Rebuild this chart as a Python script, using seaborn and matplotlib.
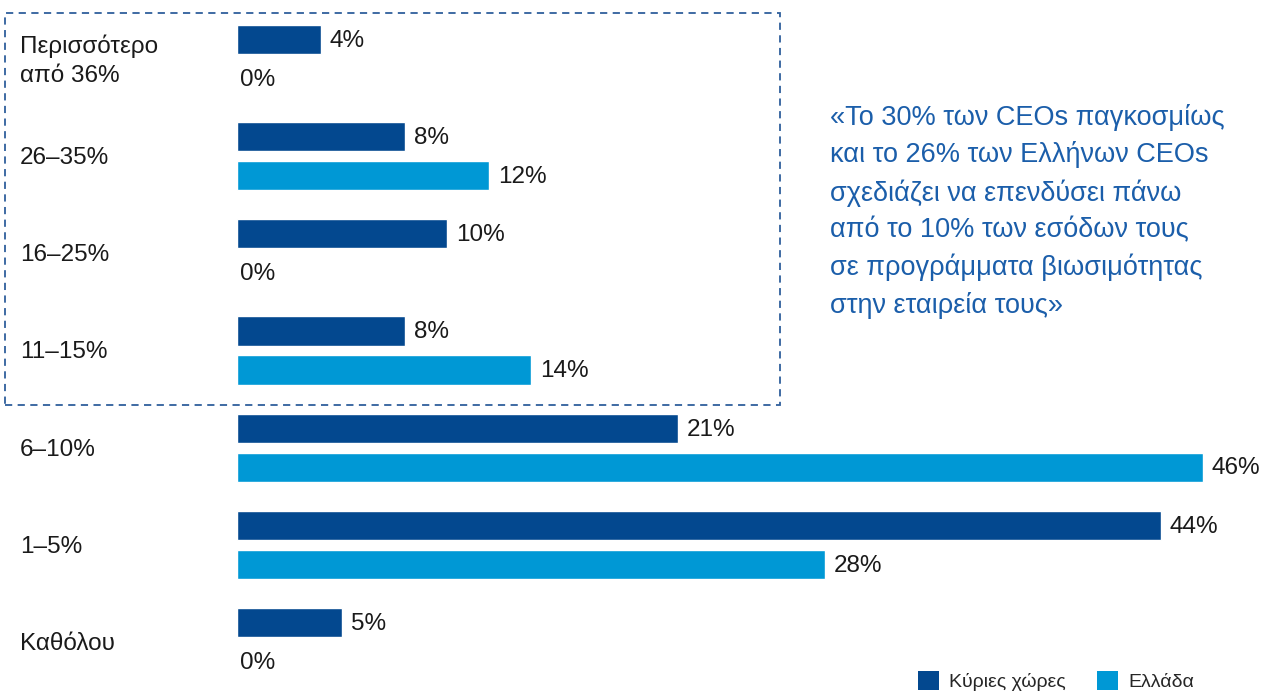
import matplotlib
matplotlib.use("Agg")
import matplotlib.pyplot as plt
from matplotlib.patches import Patch, Rectangle
import pandas as pd
import seaborn as sns

# Data
categories = ["Περισσότερο\nαπό 36%", "26–35%", "16–25%", "11–15%", "6–10%", "1–5%", "Καθόλου"]
main_countries = [4, 8, 10, 8, 21, 44, 5]
greece = [0, 12, 0, 14, 46, 28, 0]
series_names = ["Κύριες χώρες", "Ελλάδα"]
colors = ["#03488F", "#0098D5"]
quote = ("«Το 30% των CEOs παγκοσμίως\nκαι το 26% των Ελλήνων CEOs\n"
         "σχεδιάζει να επενδύσει πάνω\nαπό το 10% των εσόδων τους\n"
         "σε προγράμματα βιωσιμότητας\nστην εταιρεία τους»")

df = pd.DataFrame({
    "category": categories * 2,
    "value": main_countries + greece,
    "series": [series_names[0]] * len(categories) + [series_names[1]] * len(categories),
})

sns.set_style("white")
plt.rcParams["font.family"] = ["Liberation Sans", "DejaVu Sans"]

W, H = 1268, 694
fig = plt.figure(figsize=(W / 100, H / 100), dpi=100)
ax = fig.add_axes([237 / W, 3.4 / H, 1 - 237 / W, 680.2 / H])

sns.barplot(data=df, y="category", x="value", hue="series", orient="h",
            palette=colors, width=0.8, gap=0.25, legend=False, ax=ax,
            order=categories, hue_order=series_names, saturation=1)

ax.set_xlim(0, (W - 237) / 21.0)
ax.set_ylim(len(categories) - 0.5, -0.5)
sns.despine(ax=ax, left=True, bottom=True)
ax.set_xticks([])
ax.set_yticks([])
ax.set_xlabel("")
ax.set_ylabel("")

# value labels
for cont in ax.containers:
    for bar in cont.patches:
        w = bar.get_width()
        pad = 9 if w > 0 else 3
        ax.annotate(f"{w:.0f}%", (w, bar.get_y() + bar.get_height() / 2),
                    xytext=(pad * 0.72, -1), textcoords="offset points",
                    ha="left", va="center", fontsize=17.5, color="#1a1a1a")

# category labels on the left
for i, cat in enumerate(categories):
    ax.text((20 - 237) / (W - 237), i + 0.02, cat, transform=ax.get_yaxis_transform(),
            ha="left", va="center", fontsize=17.5, color="#1a1a1a", linespacing=1.4)

# dashed box around the upper groups
box = Rectangle((5 / W, 1 - 405 / H), 775 / W, 392 / H, transform=fig.transFigure,
                fill=False, edgecolor="#2F5F9C", linestyle=(0, (4, 3)), linewidth=1.3)
fig.add_artist(box)

# quote
fig.text(830 / W, 1 - 104 / H, quote, ha="left", va="top", fontsize=19.5,
         color="#1B5EAA", linespacing=1.5)

# legend
handles = [Patch(facecolor=c, edgecolor="none") for c in colors]
fig.legend(handles, series_names, loc="lower right", bbox_to_anchor=(1194 / W, 3 / H),
           ncol=2, frameon=False, fontsize=14, handlelength=1.1, handleheight=1.1,
           handletextpad=0.5, columnspacing=1.6, borderaxespad=0, borderpad=0)

fig.savefig("out.png", dpi=100)
